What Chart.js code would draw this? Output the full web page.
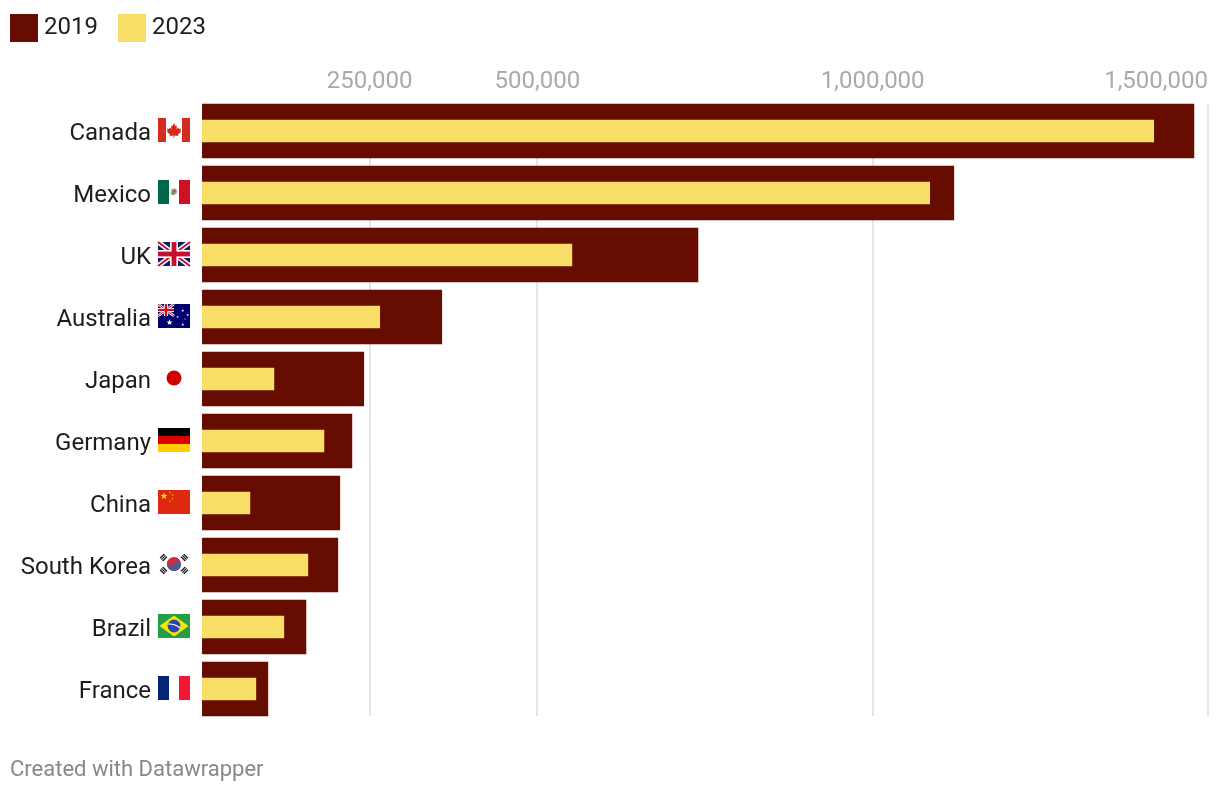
<!DOCTYPE html>
<html>
<head>
<meta charset="utf-8">
<title>Chart</title>
<script src="https://cdn.jsdelivr.net/npm/chart.js@4/dist/chart.umd.min.js"></script>
<style>
  html, body { margin: 0; padding: 0; background: #fff; }
  body { position: relative; width: 1220px; height: 794px; overflow: hidden; font-family: Roboto, sans-serif; }
  canvas { position: absolute; left: 0; top: 0; }
  #legend { position: absolute; left: 10px; top: 14px; display: flex; color: #1d1d1d; font-size: 24px; line-height: 24px; }
  #legend div { display: flex; margin-right: 20px; }
  #legend i { display: block; width: 28px; height: 28px; margin-right: 6px; }
  #footer { position: absolute; left: 10px; top: 756px; color: #888; font-size: 22px; line-height: 26px; }
</style>
</head>
<body>
<canvas id="chart" width="1220" height="794"></canvas>
<div id="legend"></div>
<div id="footer">Created with Datawrapper</div>
<script>
const countries = ['Canada', 'Mexico', 'UK', 'Australia', 'Japan', 'Germany', 'China', 'South Korea', 'Brazil', 'France'];
const values2019 = [1479000, 1121000, 739500, 357500, 241200, 223500, 205500, 202500, 155000, 98200];
const values2023 = [1419000, 1085000, 551500, 265000, 107200, 181800, 71400, 157800, 122000, 80300];
const axisTicks = [250000, 500000, 1000000, 1500000];
const seriesNames = ['2019', '2023'];

const COLOR_2019 = '#660c00',
  COLOR_2023 = '#f9df68',
  TEXT_COLOR = '#1d1d1d',
  TICK_COLOR = '#aaaaaa',
  GRID_COLOR = '#e5e5e5',
  FONT = 'Roboto';

function rect(ctx, color, x, y, w, h) {
  ctx.fillStyle = color;
  ctx.fillRect(x, y, w, h);
}

function poly(ctx, color, pts) {
  ctx.fillStyle = color;
  ctx.beginPath();
  pts.forEach(function (p, i) { i ? ctx.lineTo(p[0], p[1]) : ctx.moveTo(p[0], p[1]); });
  ctx.closePath();
  ctx.fill();
}

function dot(ctx, color, x, y, r) {
  ctx.fillStyle = color;
  ctx.beginPath();
  ctx.arc(x, y, r, 0, Math.PI * 2);
  ctx.fill();
}

function star(ctx, color, x, y, r) {
  const pts = [];
  for (let i = 0; i < 10; i++) {
    const a = -Math.PI / 2 + i * Math.PI / 5, d = i % 2 ? r * 0.42 : r;
    pts.push([x + Math.cos(a) * d, y + Math.sin(a) * d]);
  }
  poly(ctx, color, pts);
}

// union jack in a w x h box at the origin
function jack(ctx, w, h) {
  const k = h / 24;
  rect(ctx, '#012169', 0, 0, w, h);
  ctx.lineCap = 'butt';
  ctx.strokeStyle = '#ffffff';
  ctx.lineWidth = 5 * k;
  ctx.beginPath();
  ctx.moveTo(0, 0); ctx.lineTo(w, h);
  ctx.moveTo(w, 0); ctx.lineTo(0, h);
  ctx.stroke();
  ctx.strokeStyle = '#c8102e';
  ctx.lineWidth = 2 * k;
  ctx.stroke();
  rect(ctx, '#ffffff', w / 2 - 4 * k, 0, 8 * k, h);
  rect(ctx, '#ffffff', 0, h / 2 - 4 * k, w, 8 * k);
  rect(ctx, '#c8102e', w / 2 - 2.4 * k, 0, 4.8 * k, h);
  rect(ctx, '#c8102e', 0, h / 2 - 2.4 * k, w, 4.8 * k);
}

// every flag is drawn in a 32 x 24 box at the origin
const FLAGS = {
  'Canada': function (c) {
    rect(c, '#d52b1e', 0, 0, 8, 24);
    rect(c, '#d52b1e', 24, 0, 8, 24);
    poly(c, '#d52b1e', [[16, 5], [17.5, 8], [19, 7.4], [18.5, 11], [20.3, 9.6], [21, 11], [23, 10.6], [22.4, 13], [23.4, 13.6], [20, 16.6], [20.4, 18], [16.4, 17.4], [16.4, 20], [15.6, 20], [15.6, 17.4], [11.6, 18], [12, 16.6], [8.6, 13.6], [9.6, 13], [9, 10.6], [11, 11], [11.7, 9.6], [13.5, 11], [13, 7.4], [14.5, 8]]);
  },
  'Mexico': function (c) {
    rect(c, '#006847', 0, 0, 11, 24);
    rect(c, '#ce1126', 21, 0, 11, 24);
    dot(c, '#b39a72', 16, 11.5, 3);
    dot(c, '#6f9a62', 15, 13.4, 1.8);
    dot(c, '#7a5c3c', 16.4, 11, 1.1);
  },
  'UK': function (c) {
    jack(c, 32, 24);
  },
  'Australia': function (c) {
    rect(c, '#00006e', 0, 0, 32, 24);
    jack(c, 16, 12);
    star(c, '#ffffff', 11.5, 18.5, 3.2);
    star(c, '#ffffff', 24.7, 20.5, 1.5);
    star(c, '#ffffff', 19.5, 13, 1.3);
    star(c, '#ffffff', 24.7, 6.5, 1.5);
    star(c, '#ffffff', 29.7, 11, 1.4);
    dot(c, '#ffffff', 27, 15, 0.6);
  },
  'Japan': function (c) {
    dot(c, '#d00000', 16, 12, 7.5);
  },
  'Germany': function (c) {
    rect(c, '#000000', 0, 0, 32, 8);
    rect(c, '#dd0000', 0, 8, 32, 8);
    rect(c, '#ffce00', 0, 16, 32, 8);
  },
  'China': function (c) {
    rect(c, '#de2910', 0, 0, 32, 24);
    star(c, '#ffde00', 6, 6, 3.6);
    dot(c, '#f4b400', 12, 2.5, 0.8);
    dot(c, '#f4b400', 14.5, 5, 0.8);
    dot(c, '#f4b400', 14.5, 8.5, 0.8);
    dot(c, '#f4b400', 12, 11, 0.8);
  },
  'South Korea': function (c) {
    dot(c, '#cd2e3a', 16, 12, 7);
    c.fillStyle = '#4a5a9a';
    c.beginPath();
    c.arc(16, 12, 7, 0.35, 0.35 + Math.PI);
    c.fill();
    dot(c, '#cd2e3a', 12.7, 10.8, 3.5);
    dot(c, '#4a5a9a', 19.3, 13.2, 3.5);
    [[5.5, 5.5, 1], [26.5, 5.5, -1], [5.5, 18.5, -1], [26.5, 18.5, 1]].forEach(function (t) {
      c.save();
      c.translate(t[0], t[1]);
      c.rotate(t[2] * Math.PI / 4 + Math.PI / 2);
      rect(c, '#1a1a1a', -3, -2.5, 6, 1.3);
      rect(c, '#1a1a1a', -3, -0.65, 6, 1.3);
      rect(c, '#1a1a1a', -3, 1.2, 6, 1.3);
      c.restore();
    });
  },
  'Brazil': function (c) {
    rect(c, '#229e45', 0, 0, 32, 24);
    poly(c, '#f8e509', [[1.5, 12], [16, 1.5], [30.5, 12], [16, 22.5]]);
    dot(c, '#2b49a3', 16, 12, 6.4);
    c.strokeStyle = '#ffffff';
    c.lineWidth = 1.1;
    c.beginPath();
    c.moveTo(10, 10);
    c.quadraticCurveTo(17, 9.5, 22, 14);
    c.stroke();
  },
  'France': function (c) {
    rect(c, '#002776', 0, 0, 11, 24);
    rect(c, '#f31830', 21, 0, 11, 24);
  }
};

// grid lines run 104-716, the category band is a little taller than that
const gridMask = {
  id: 'gridMask',
  beforeDatasetsDraw: function (chart) {
    const a = chart.chartArea, ctx = chart.ctx;
    rect(ctx, '#ffffff', a.left, a.top, a.width + 2, 4);
    rect(ctx, '#ffffff', a.left, a.bottom - 4, a.width + 2, 4);
  }
};

// last x label sits inside the edge instead of being centered,
// country names sit a bit lower than canvas 'middle' puts them
const labelTweaks = {
  id: 'labelTweaks',
  beforeDraw: function (chart) {
    const items = chart.scales.x.getLabelItems(chart.chartArea);
    items[items.length - 1].options.textAlign = 'right';
    chart.scales.y.getLabelItems(chart.chartArea).forEach(function (item) {
      item.options.translation[1] += 3;
    });
  }
};

const flagPainter = {
  id: 'flagPainter',
  afterDraw: function (chart) {
    const ctx = chart.ctx, y = chart.scales.y;
    countries.forEach(function (name, i) {
      ctx.save();
      ctx.translate(158, y.getPixelForValue(i) - 13);
      FLAGS[name](ctx);
      ctx.restore();
    });
  }
};

function fitX(scale) {
  scale.height = 100;
  scale.paddingLeft = 0;
  scale.paddingRight = 0;
}

function fitY(scale) {
  scale.width = 202;
  scale.paddingTop = 0;
  scale.paddingBottom = 0;
}

function buildLegend() {
  const el = document.getElementById('legend');
  [COLOR_2019, COLOR_2023].forEach(function (color, i) {
    el.innerHTML += '<div><i style="background:' + color + '"></i><span>' + seriesNames[i] + '</span></div>';
  });
}

buildLegend();

new Chart(document.getElementById('chart'), {
  type: 'bar',
  data: {
    labels: countries,
    datasets: [{
      label: seriesNames[0],
      data: values2019,
      backgroundColor: COLOR_2019,
      barThickness: 54,
      order: 2
    }, {
      label: seriesNames[1],
      data: values2023,
      backgroundColor: COLOR_2023,
      barThickness: 22,
      order: 1
    }]
  },
  options: {
    indexAxis: 'y',
    responsive: false,
    animation: false,
    layout: { padding: { left: 0, top: 0, right: 12, bottom: 74 } },
    plugins: {
      legend: { display: false },
      tooltip: { enabled: false }
    },
    scales: {
      x: {
        position: 'top',
        min: 0,
        max: 1500000,
        afterBuildTicks: function (scale) {
          scale.ticks = axisTicks.map(function (v) { return { value: v }; });
        },
        afterFit: fitX,
        border: { display: false },
        grid: { color: GRID_COLOR, lineWidth: 2, drawTicks: false },
        ticks: {
          color: TICK_COLOR,
          font: { family: FONT, size: 24 },
          padding: 4,
          maxRotation: 0,
          callback: function (v) { return v.toLocaleString('en-US'); }
        }
      },
      y: {
        stacked: true,
        afterFit: fitY,
        border: { display: false },
        grid: { display: false },
        ticks: {
          color: TEXT_COLOR,
          font: { family: FONT, size: 24 },
          padding: 43,
          autoSkip: false
        }
      }
    }
  },
  plugins: [gridMask, labelTweaks, flagPainter]
});
</script>
</body>
</html>
